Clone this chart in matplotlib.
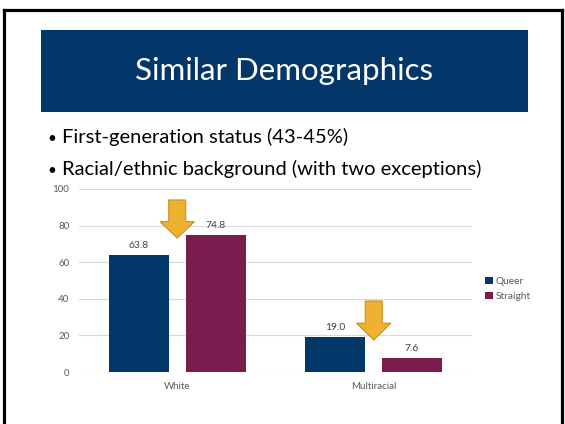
import matplotlib
matplotlib.use("Agg")
import matplotlib.pyplot as plt
import matplotlib.patches as patches
from matplotlib.lines import Line2D

# data
categories = ["White", "Multiracial"]
queer = [63.8, 19.0]
straight = [74.8, 7.6]
series_names = ["Queer", "Straight"]
yticks = [0, 20, 40, 60, 80, 100]
title = "Similar Demographics"
bullets = ["First-generation status (43-45%)",
           "Racial/ethnic background (with two exceptions)"]
# arrows: (category x, top y, tip y) in data units
arrows = [(0.0, 94, 73.2), (1.0, 38.8, 17.5)]

navy = "#03376A"
maroon = "#7B1C4F"
gold = "#EEB230"
gold_edge = "#C8901E"
gray = "#595959"

W, H = 565, 424
fig = plt.figure(figsize=(W / 100, H / 100), dpi=100)
fig.patch.set_facecolor("white")

def fx(px):
    return px / W

def fy(py):
    # py measured from top of the picture
    return 1 - py / H

# slide border (left, top, right; bottom runs off the picture)
for xs, ys in [([fx(4), fx(4)], [fy(9.5), 0]),
               ([fx(4), fx(562)], [fy(9.5), fy(9.5)]),
               ([fx(562), fx(562)], [fy(9.5), 0])]:
    fig.add_artist(Line2D(xs, ys, color="black", lw=2.3, transform=fig.transFigure))

# title banner
banner = patches.Rectangle((fx(41), fy(112)), fx(528) - fx(41), fy(30) - fy(112),
                           transform=fig.transFigure, facecolor=navy, edgecolor="none")
fig.add_artist(banner)
fig.text(fx(284), fy(80), title, color="white", fontsize=22.5, family="Lato",
         ha="center", va="baseline")

# bullet lines
for i, line in enumerate(bullets):
    yb = fy(143 + 32 * i)
    fig.text(fx(47), yb, "\u2022", fontsize=11, family="Lato", color="black",
             ha="left", va="baseline")
    fig.text(fx(62), yb, line, fontsize=14.5, family="Lato", color="black",
             ha="left", va="baseline")

# chart
ax = fig.add_axes([fx(79), fy(372), fx(472) - fx(79), fy(189) - fy(372)])
x = list(range(len(categories)))
bw = 0.305
off = 0.195
b1 = ax.bar([i - off for i in x], queer, bw, color=navy, label=series_names[0], zorder=2)
b2 = ax.bar([i + off for i in x], straight, bw, color=maroon, label=series_names[1], zorder=2)

for bars, vals in [(b1, queer), (b2, straight)]:
    for rect, v in zip(bars, vals):
        ax.annotate(f"{v:.1f}", (rect.get_x() + rect.get_width() / 2, v),
                    xytext=(0, 3.5), textcoords="offset points", ha="center",
                    va="bottom", fontsize=7.4, color="#404040", family="Lato")

# down arrows
shaft_w = 0.0865
head_w = 0.175
for ax_x, top, tip in arrows:
    head_base = tip + (top - tip) * 0.43
    pts = [(ax_x - shaft_w / 2, top), (ax_x + shaft_w / 2, top),
           (ax_x + shaft_w / 2, head_base), (ax_x + head_w / 2, head_base),
           (ax_x, tip), (ax_x - head_w / 2, head_base),
           (ax_x - shaft_w / 2, head_base)]
    ax.add_patch(patches.Polygon(pts, closed=True, facecolor=gold,
                                 edgecolor=gold_edge, lw=0.8, zorder=3))

ax.set_xlim(-0.5, len(categories) - 0.5)
ax.set_ylim(0, 100)
ax.set_yticks(yticks)
ax.set_xticks(x)
ax.set_xticklabels(categories)
ax.tick_params(length=0, labelsize=7, colors=gray)
ax.tick_params(axis="x", pad=7)
ax.tick_params(axis="y", pad=7)
for lab in ax.get_xticklabels() + ax.get_yticklabels():
    lab.set_family("Lato")
ax.grid(axis="y", color="#D9D9D9", lw=0.8, zorder=0)
for s in ax.spines.values():
    s.set_visible(False)
ax.set_facecolor("none")

leg = ax.legend(loc="center left", bbox_to_anchor=(fx(485), fy(289)),
                bbox_transform=fig.transFigure, frameon=False,
                borderaxespad=0, borderpad=0,
                prop={"family": "Lato", "size": 7.3}, handlelength=0.75,
                handleheight=0.75, handletextpad=0.3, labelspacing=0.55)
for t in leg.get_texts():
    t.set_color(gray)

fig.savefig("out.png", dpi=100)
